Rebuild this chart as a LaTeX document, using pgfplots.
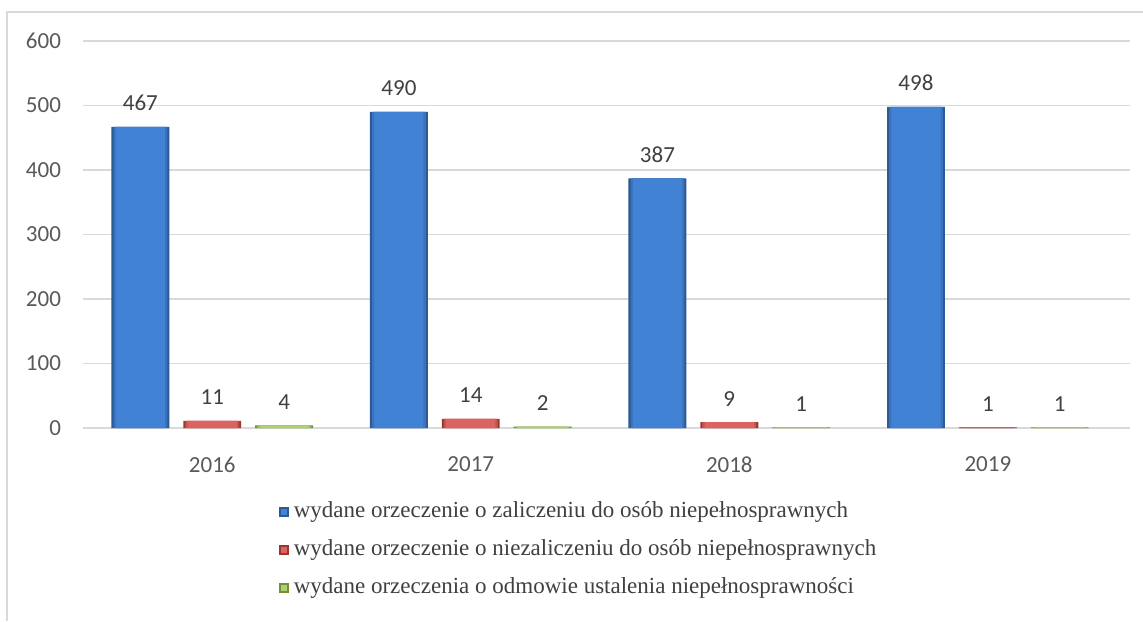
\documentclass[border=0pt]{standalone}
\usepackage{pgfplots}
\pgfplotsset{compat=1.18}
\usepackage{fontspec}
\setmainfont{Liberation Serif}
\newfontfamily\carlito{Carlito}

\definecolor{gridgray}{HTML}{D9D9D9}
\definecolor{ticktext}{HTML}{595959}
\definecolor{labeltext}{HTML}{404040}
\definecolor{blueA}{HTML}{4282D4}
\definecolor{blueM}{HTML}{3A72BC}
\definecolor{blueB}{HTML}{2C5A96}
\definecolor{redA}{HTML}{DC6460}
\definecolor{redM}{HTML}{C65450}
\definecolor{redB}{HTML}{9E3430}
\definecolor{greenA}{HTML}{ADD070}
\definecolor{greenM}{HTML}{9BBE5C}
\definecolor{greenB}{HTML}{748F3A}

\pgfplotstableread{
x  zal  niezal  odm
0  467  11      4
1  490  14      2
2  387  9       1
3  498  1       1
}\data

\begin{document}
\begin{tikzpicture}
\useasboundingbox (-41.5pt,-96.5pt) rectangle (530pt,214pt);
% outer frame (only top and left visible)
\draw[gridgray, line width=0.8pt] (-38pt,-96.5pt) -- (-38pt,208pt) -- (530pt,208pt);
\begin{axis}[
    at={(0,0)}, anchor=south west,
    scale only axis,
    width=523.5pt, height=193.5pt,
    ybar, bar width=0.224,
    xmin=-0.5, xmax=3.55,
    ymin=0, ymax=600,
    xtick={0,1,2,3},
    xticklabels={2016,2017,2018,2019},
    ytick={0,100,...,600},
    major tick length=0pt,
    axis line style={draw=none},
    ymajorgrids,
    grid style={gridgray, line width=0.6pt},
    tick label style={font=\carlito\fontsize{11.5}{13}\selectfont, text=ticktext},
    /pgf/number format/assume math mode=true,
    xticklabel style={yshift=-11pt},
    yticklabel style={xshift=-7.5pt},
    every node near coord/.append style={font=\carlito\fontsize{11.5}{13}\selectfont,
        text=labeltext, yshift=4.5pt},
    legend style={at={(axis description cs:0.187,-0.189)}, anchor=north west,
        draw=none, inner sep=0pt, row sep=8.5pt,
        font=\fontsize{11.5}{13}\selectfont, text=labeltext,
        nodes={inner sep=0pt, text height=8pt, text depth=2.5pt},
        /tikz/every odd column/.append style={column sep=2.5pt}},
    legend cell align=left,
]
% series 1: dark outer bar, then lighter narrower bars for a bevel look
\addplot[bar shift=-0.278, fill=blueB, draw=none, nodes near coords,
    legend image code/.code={\fill[blueB] (0pt,-2.4pt) rectangle (4.8pt,2.4pt);
        \fill[blueA] (0.8pt,-1.6pt) rectangle (4pt,1.6pt);}]
    table[x=x, y=zal] {\data};
\addlegendentry{wydane orzeczenie o zaliczeniu do osób niepełnosprawnych}
\addplot[forget plot, bar shift=-0.278, bar width=0.208, fill=blueM, draw=none]
    table[x=x, y=zal] {\data};
\addplot[forget plot, bar shift=-0.278, bar width=0.19, fill=blueA, draw=none]
    table[x=x, y=zal] {\data};
% series 2
\addplot[bar shift=0, fill=redB, draw=none, nodes near coords,
    legend image code/.code={\fill[redB] (0pt,-2.4pt) rectangle (4.8pt,2.4pt);
        \fill[redA] (0.8pt,-1.6pt) rectangle (4pt,1.6pt);}]
    table[x=x, y=niezal] {\data};
\addlegendentry{wydane orzeczenie o niezaliczeniu do osób niepełnosprawnych}
\addplot[forget plot, bar shift=0, bar width=0.208, fill=redM, draw=none]
    table[x=x, y=niezal] {\data};
\addplot[forget plot, bar shift=0, bar width=0.19, fill=redA, draw=none]
    table[x=x, y=niezal] {\data};
% series 3
\addplot[bar shift=0.278, fill=greenB, draw=none, nodes near coords,
    legend image code/.code={\fill[greenB] (0pt,-2.4pt) rectangle (4.8pt,2.4pt);
        \fill[greenA] (0.8pt,-1.6pt) rectangle (4pt,1.6pt);}]
    table[x=x, y=odm] {\data};
\addlegendentry{wydane orzeczenia o odmowie ustalenia niepełnosprawności}
\addplot[forget plot, bar shift=0.278, bar width=0.208, fill=greenM, draw=none]
    table[x=x, y=odm] {\data};
\addplot[forget plot, bar shift=0.278, bar width=0.19, fill=greenA, draw=none]
    table[x=x, y=odm] {\data};
\end{axis}
\end{tikzpicture}
\end{document}
